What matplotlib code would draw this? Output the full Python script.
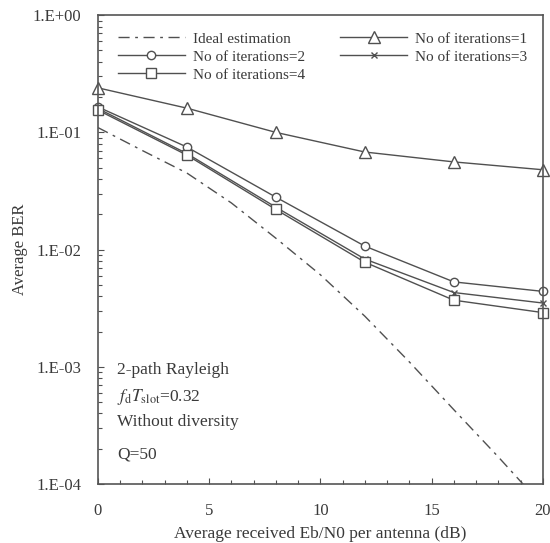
import numpy as np
import matplotlib
matplotlib.use("Agg")
import matplotlib.pyplot as plt
from matplotlib.ticker import FixedLocator, LogLocator, NullFormatter

plt.rcParams['font.family'] = ['Liberation Serif', 'DejaVu Serif']
plt.rcParams['mathtext.fontset'] = 'stix'

# data
snr_ideal = [0, 2, 4, 6, 8, 10, 12, 14, 16, 18, 20]
ber_ideal = [0.11, 0.07, 0.045, 0.025, 0.0125, 0.0061, 0.0027, 0.0011, 4.3e-4, 1.7e-4, 6.5e-5]

snr = [0, 4, 8, 12, 16, 20]
ber_it1 = [0.24, 0.161, 0.100, 0.068, 0.056, 0.048]
ber_it2 = [0.165, 0.075, 0.028, 0.0107, 0.0053, 0.0044]
ber_it3 = [0.160, 0.066, 0.023, 0.0083, 0.0043, 0.0035]
ber_it4 = [0.155, 0.064, 0.022, 0.0078, 0.0037, 0.0029]

y_ticks = [1, 1e-1, 1e-2, 1e-3, 1e-4]
y_ticklabels = ["1.E+00", "1.E-01", "1.E-02", "1.E-03", "1.E-04"]

col = "#505050"
txt = "#3a3a3a"
fig = plt.figure(figsize=(5.5, 5.43), dpi=100)
ax = fig.add_axes([0.178, 0.1087, 0.809, 0.8633])

h_ideal, = ax.plot(snr_ideal, ber_ideal, color=col, lw=1.0, ls=(0, (8, 4, 2, 4)),
                   label="Ideal estimation")
mk = dict(color=col, lw=1.0, markersize=7, markerfacecolor="white", markeredgecolor=col,
          markeredgewidth=1.0, clip_on=False)
h1, = ax.plot(snr, ber_it1, marker="^", label="No of iterations=1", **{**mk, "markersize": 8})
h2, = ax.plot(snr, ber_it2, marker="o", label="No of iterations=2", **{**mk, "markersize": 6})
h3, = ax.plot(snr, ber_it3, marker="x", label="No of iterations=3", **{**mk, "markersize": 5})
h4, = ax.plot(snr, ber_it4, marker="s", label="No of iterations=4", **{**mk, "markersize": 7.5})

ax.set_yscale("log")
ax.set_xlim(0, 20)
ax.set_ylim(1e-4, 1)
ax.set_yticks(y_ticks)
ax.set_yticklabels(y_ticklabels)
ax.yaxis.set_minor_locator(LogLocator(base=10, subs=np.arange(2, 10)))
ax.yaxis.set_minor_formatter(NullFormatter())
ax.set_xticks([0, 5, 10, 15, 20])
ax.xaxis.set_minor_locator(FixedLocator(np.arange(0, 21, 1)))
ax.tick_params(which="both", direction="in", colors=col, labelcolor=txt,
               labelsize=12, top=False, right=False)
ax.tick_params(which="major", length=4, width=0.8)
ax.tick_params(which="minor", length=3, width=0.8)
ax.tick_params(axis="y", which="major", pad=12)
ax.tick_params(axis="x", which="major", pad=14)
for s in ax.spines.values():
    s.set_color("#555555")
    s.set_linewidth(1.2)

ax.set_xlabel("Average received Eb/N0 per antenna (dB)", fontsize=12.5, color=txt, labelpad=5)
ax.set_ylabel("Average BER", fontsize=12, color=txt, labelpad=3)

notes = ["2-path Rayleigh", r"$f_{\rm d}T_{\rm slot}$=0.32", "Without diversity", "Q=50"]
note_y = [0.243, 0.186, 0.132, 0.062]
for s, yy in zip(notes, note_y):
    ax.text(0.043, yy, s, transform=ax.transAxes, fontsize=12.5, color=txt, va="center")

order = [h_ideal, h2, h4, h1, h3]
leg = ax.legend(order, [h.get_label() for h in order],
                ncol=2, loc="upper left", bbox_to_anchor=(0.007, 1.0),
                frameon=False,
                fontsize=11, handlelength=4.4, handletextpad=0.5, labelspacing=0.28,
                borderaxespad=0, borderpad=1.1, columnspacing=2.3)
for t in leg.get_texts():
    t.set_color(txt)

fig.savefig("out.png", dpi=100)
